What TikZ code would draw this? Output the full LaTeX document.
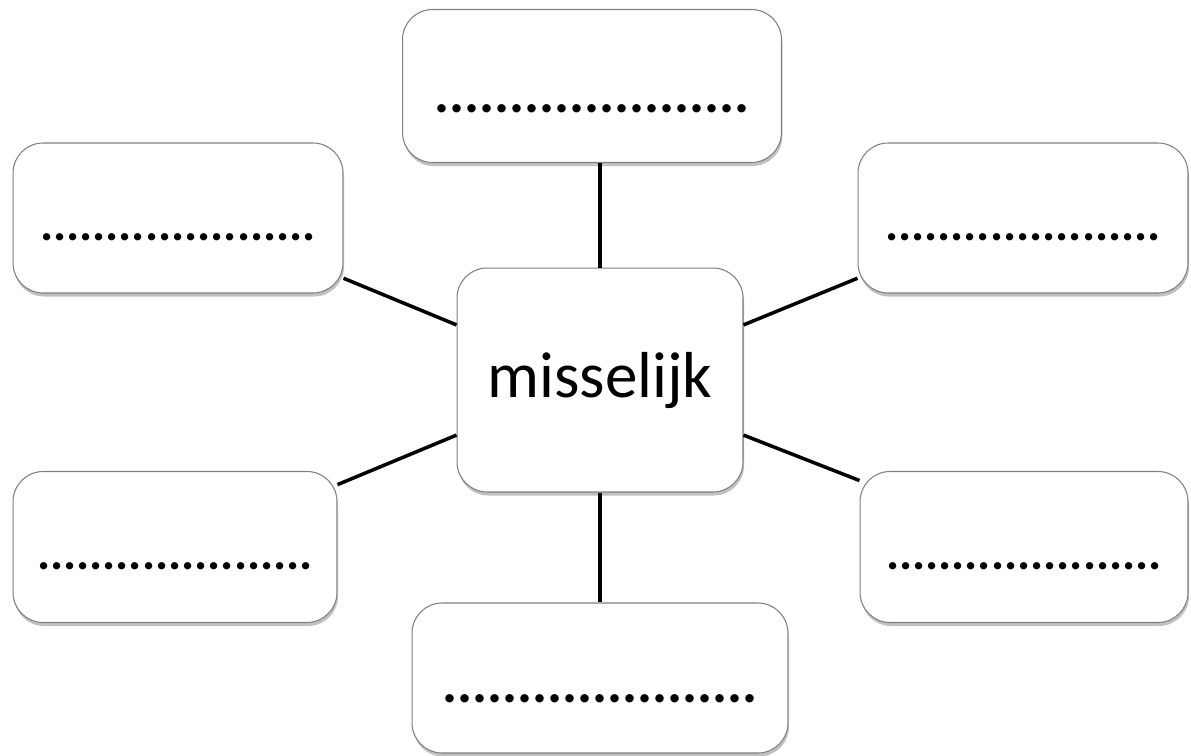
\documentclass[tikz,border=0pt]{standalone}
\usepackage{fontspec}
\setmainfont{Carlito}
\usetikzlibrary{shapes,shadows}
\begin{document}
\begin{tikzpicture}[x=0.02cm,y=-0.02cm,
		bubble/.style={draw=black!50,line width=0.6pt,fill=white,rounded corners=0.6cm,
			drop shadow={shadow xshift=0.6pt,shadow yshift=-2pt,opacity=0.35,fill=black!70},
			inner sep=0pt},
		blank/.style={bubble,font=\fontsize{#1}{#1}\bfseries},
		spoke/.style={line width=2pt,black}]
		\useasboundingbox (0,0) rectangle (1191,755);
		\node[bubble,minimum width=5.72cm,minimum height=4.48cm,font=\fontsize{37}{40}\selectfont] (ctr) at (600,380) {misselijk};
		\node[blank=32,minimum width=7.58cm,minimum height=3.06cm,text height=1.04cm,text depth=0pt] (top) at (592,86) {.....................};
		\node[blank=28,minimum width=6.6cm,minimum height=3.0cm,text height=0.88cm,text depth=0pt] (lt) at (178,218) {.....................};
		\node[blank=28,minimum width=6.6cm,minimum height=3.0cm,text height=0.88cm,text depth=0pt] (rt) at (1023,218) {.....................};
		\node[blank=28,minimum width=6.48cm,minimum height=3.02cm,text height=0.88cm,text depth=0pt] (lb) at (175,547) {.....................};
		\node[blank=28,minimum width=6.56cm,minimum height=3.02cm,text height=0.88cm,text depth=0pt] (rb) at (1024,547) {.....................};
		\node[blank=32,minimum width=7.52cm,minimum height=3.0cm,text height=0.98cm,text depth=0pt] (bot) at (600,678) {.....................};
		\draw[spoke] (top.south -| ctr.north) -- (ctr.north);
		\draw[spoke] (ctr.south) -- (bot.north);
		\draw[spoke] (lt.-20.6) -- (ctr.159);
		\draw[spoke] (rt.200.6) -- (ctr.21);
		\draw[spoke] (lb.21.6) -- (ctr.201);
		\draw[spoke] (rb.158.4) -- (ctr.-21);
		\end{tikzpicture}
\end{document}
